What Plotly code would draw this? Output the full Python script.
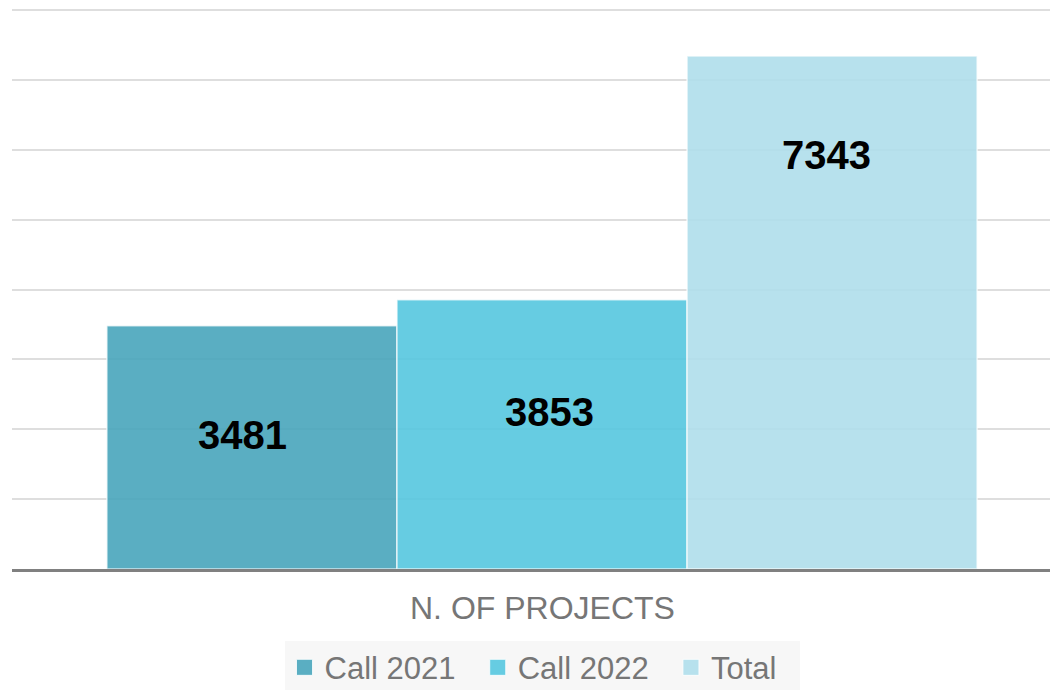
import plotly.graph_objects as go

category = ["N. OF PROJECTS"]
series_names = ["Call 2021", "Call 2022", "Total"]
series_values = [3481, 3853, 7343]
series_colors = ["rgba(72,165,187,0.9)", "rgba(85,198,223,0.9)", "rgba(175,222,235,0.9)"]
legend_colors = ["#5aaec2", "#66cce2", "#b7e1ed"]
label_values = [1915, 2245, 5925]  # vertical position of the value labels (data units)
label_xshift = [-9, 7, -6]          # small horizontal offsets of the value labels (px)

FONT = "Liberation Sans, Arial, sans-serif"

fig = go.Figure()
for name, val, col in zip(series_names, series_values, series_colors):
    fig.add_trace(go.Bar(
        x=category, y=[val], name=name, showlegend=False,
        marker=dict(color=col, line=dict(color="rgba(255,255,255,0.7)", width=1.5)),
        hoverinfo="skip",
    ))
# legend entries (square swatches)
for name, col in zip(series_names, legend_colors):
    fig.add_trace(go.Scatter(
        x=[None], y=[None], mode="markers", name=name + "\u00a0\u00a0",
        marker=dict(symbol="square", size=16, color=col,
                    line=dict(color="rgba(255,255,255,0.8)", width=1)),
        hoverinfo="skip",
    ))

# value labels placed over bars
n = len(series_values)
bargap = 0.179
bw = (1 - bargap) / n
for i, (val, ly, xs) in enumerate(zip(series_values, label_values, label_xshift)):
    xc = -(1 - bargap) / 2 + bw * (i + 0.5)
    fig.add_annotation(x=xc, y=ly, xref="x", yref="y", text="<b>%d</b>" % val,
                       showarrow=False, xshift=xs,
                       font=dict(family=FONT, size=40, color="#000000"))

fig.add_annotation(x=0, y=-0.07, xref="x", yref="paper", text=category[0],
                   showarrow=False, yanchor="middle",
                   font=dict(family=FONT, size=32, color="#767676"))

fig.update_layout(
    width=1050, height=682,
    margin=dict(l=4, r=0, t=1, b=121, autoexpand=False),
    paper_bgcolor="white", plot_bgcolor="white",
    barmode="group", bargap=bargap, bargroupgap=0,
    showlegend=True,
    legend=dict(orientation="h", x=0.5067, xanchor="center", y=-0.128, yanchor="top",
                bgcolor="#f7f7f7", font=dict(family=FONT, size=31, color="#767676"),
                itemwidth=30, traceorder="normal"),
    xaxis=dict(range=[-0.5, 0.4868], showticklabels=False, showline=True,
               linecolor="#808080", linewidth=3, ticks="", showgrid=False),
    yaxis=dict(range=[0, 8015], tickvals=[1000, 2000, 3000, 4000, 5000, 6000, 7000, 8000],
               showticklabels=False, showgrid=True,
               gridcolor="#dedede", gridwidth=1.5, zeroline=False, ticks=""),
)

fig.write_html("out.html")
